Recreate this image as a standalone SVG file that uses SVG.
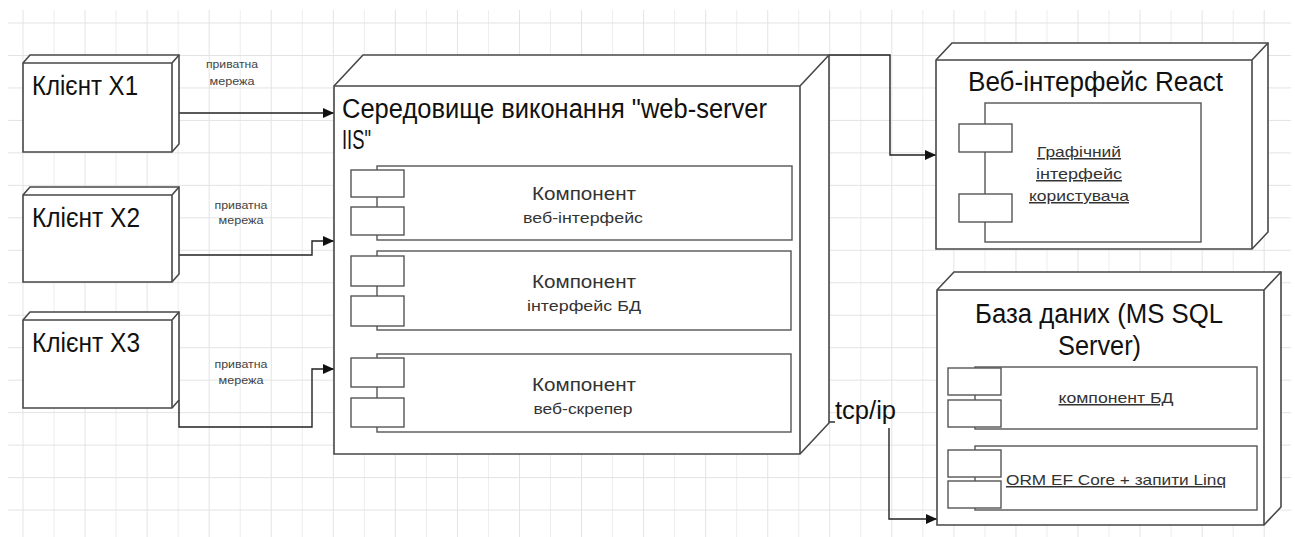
<svg xmlns="http://www.w3.org/2000/svg" width="1295" height="537" viewBox="0 0 1295 537">
<style>
.grid{stroke:#e3e3e3;stroke-width:1;fill:none}
.gridb{stroke:#ededed;stroke-width:1;fill:none}
.node{fill:#fff;stroke:#474747;stroke-width:1.6;stroke-linejoin:miter}
.ln{fill:none;stroke:#474747;stroke-width:1.6}
.comp{fill:#fff;stroke:#555;stroke-width:1.4}
.conn{fill:none;stroke:#222;stroke-width:1.4}
.title{font-family:"Liberation Sans",Arial,sans-serif;font-size:27px;fill:#111}
.cname{font-family:"Liberation Sans",Arial,sans-serif;font-size:19px;fill:#333;text-anchor:middle}
.csub{font-family:"Liberation Sans",Arial,sans-serif;font-size:15px;fill:#333;text-anchor:middle}
.ulab{font-family:"Liberation Sans",Arial,sans-serif;font-size:15px;fill:#333;text-anchor:middle;text-decoration:underline}
.small{font-family:"Liberation Sans",Arial,sans-serif;font-size:11px;fill:#444;text-anchor:middle}
</style>
<defs>
<marker id="arr" markerUnits="userSpaceOnUse" markerWidth="11" markerHeight="10" refX="11" refY="5" orient="auto">
<path d="M0,0 L11,5 L0,10 Z" fill="#111"/>
</marker>
</defs>
<rect width="1295" height="537" fill="#fff"/>
<g id="grid">
<path class="grid" d="M23,10V537 M85.06,10V537 M147.12,10V537 M209.18,10V537 M271.24,10V537 M333.3,10V537 M395.36,10V537 M457.42,10V537 M519.48,10V537 M581.54,10V537 M643.6,10V537 M705.66,10V537 M767.72,10V537 M829.78,10V537 M891.84,10V537 M953.9,10V537 M1015.96,10V537 M1078.02,10V537 M1140.08,10V537 M1202.14,10V537 M1264.2,10V537"/>
<path class="gridb" d="M54.03,10V537 M116.09,10V537 M178.15,10V537 M240.21,10V537 M302.27,10V537 M364.33,10V537 M426.39,10V537 M488.45,10V537 M550.51,10V537 M612.57,10V537 M674.63,10V537 M736.69,10V537 M798.75,10V537 M860.81,10V537 M922.87,10V537 M984.93,10V537 M1046.99,10V537 M1109.05,10V537 M1171.11,10V537 M1233.17,10V537"/>
<path class="grid" d="M8,23H1291 M8,55.47H1291 M8,87.94H1291 M8,120.41H1291 M8,152.88H1291 M8,185.35H1291 M8,217.82H1291 M8,250.29H1291 M8,282.76H1291 M8,315.23H1291 M8,347.7H1291 M8,380.17H1291 M8,412.64H1291 M8,445.11H1291 M8,477.58H1291 M8,510.05H1291"/>
</g>

<g id="connectors">
<path class="conn" d="M179,113 H334" marker-end="url(#arr)"/>
<path class="conn" d="M179,255 H312 V241 H334" marker-end="url(#arr)"/>
<path class="conn" d="M179,400 V427 H312 V369 H334" marker-end="url(#arr)"/>
<path class="conn" d="M829,55 H890 V155 H936" marker-end="url(#arr)"/>
<path class="conn" d="M829,422 H835"/>
<path class="conn" d="M889,428 V519 H937" marker-end="url(#arr)"/>
<text class="small" x="232" y="68" textLength="52" lengthAdjust="spacingAndGlyphs">приватна</text>
<text class="small" x="232" y="85" textLength="45" lengthAdjust="spacingAndGlyphs">мережа</text>
<text class="small" x="241" y="209" textLength="53" lengthAdjust="spacingAndGlyphs">приватна</text>
<text class="small" x="241" y="224" textLength="45" lengthAdjust="spacingAndGlyphs">мережа</text>
<text class="small" x="241" y="368" textLength="53" lengthAdjust="spacingAndGlyphs">приватна</text>
<text class="small" x="241" y="384" textLength="45" lengthAdjust="spacingAndGlyphs">мережа</text>
<text x="835" y="419" font-family="Liberation Sans, Arial, sans-serif" font-size="26" fill="#111" textLength="61" lengthAdjust="spacingAndGlyphs">tcp/ip</text>
</g>

<g id="client1">
<path class="node" d="M23,63 L30,55 H179 V144 L172,152 H23 Z"/>
<path class="ln" d="M23,63 H172 V152 M172,63 L179,55"/>
<text class="title" x="32" y="95" textLength="106" lengthAdjust="spacingAndGlyphs">Клієнт Х1</text>
</g>
<g id="client2">
<path class="node" d="M23,195 L30,187 H179 V274 L172,282 H23 Z"/>
<path class="ln" d="M23,195 H172 V282 M172,195 L179,187"/>
<text class="title" x="32" y="227" textLength="108" lengthAdjust="spacingAndGlyphs">Клієнт Х2</text>
</g>
<g id="client3">
<path class="node" d="M23,320 L30,312 H179 V400 L172,408 H23 Z"/>
<path class="ln" d="M23,320 H172 V408 M172,320 L179,312"/>
<text class="title" x="32" y="352" textLength="108" lengthAdjust="spacingAndGlyphs">Клієнт Х3</text>
</g>

<g id="server">
<path class="node" d="M334,86 L363,55 H829 V423 L800,454 H334 Z"/>
<path class="ln" d="M334,86 H800 V454 M800,86 L829,55"/>
<text class="title" x="342" y="118" textLength="425" lengthAdjust="spacingAndGlyphs">Середовище виконання "web-server</text>
<text class="title" x="342" y="149" textLength="29" lengthAdjust="spacingAndGlyphs">IIS"</text>
<g id="comp-web">
<rect class="comp" x="377" y="166" width="415" height="74"/>
<rect class="comp" x="351" y="170" width="53" height="27"/>
<rect class="comp" x="351" y="207" width="53" height="28"/>
<text class="cname" x="584" y="200" textLength="104" lengthAdjust="spacingAndGlyphs">Компонент</text>
<text class="csub" x="583" y="223" textLength="120" lengthAdjust="spacingAndGlyphs">веб-інтерфейс</text>
</g>
<g id="comp-db">
<rect class="comp" x="377" y="251" width="414" height="79"/>
<rect class="comp" x="351" y="256" width="53" height="30"/>
<rect class="comp" x="351" y="296" width="53" height="30"/>
<text class="cname" x="584" y="288" textLength="104" lengthAdjust="spacingAndGlyphs">Компонент</text>
<text class="csub" x="584" y="311" textLength="114" lengthAdjust="spacingAndGlyphs">інтерфейс БД</text>
</g>
<g id="comp-scraper">
<rect class="comp" x="377" y="354" width="414" height="78"/>
<rect class="comp" x="351" y="358" width="53" height="29"/>
<rect class="comp" x="351" y="398" width="53" height="29"/>
<text class="cname" x="584" y="391" textLength="104" lengthAdjust="spacingAndGlyphs">Компонент</text>
<text class="csub" x="583" y="414" textLength="99" lengthAdjust="spacingAndGlyphs">веб-скрепер</text>
</g>
</g>

<g id="react">
<path class="node" d="M936,60 L952,43 H1268 V232 L1252,249 H936 Z"/>
<path class="ln" d="M936,60 H1252 V249 M1252,60 L1268,43"/>
<text class="title" x="968" y="91" textLength="255" lengthAdjust="spacingAndGlyphs">Веб-інтерфейс React</text>
<g id="comp-gui">
<rect class="comp" x="985" y="103" width="216" height="139"/>
<rect class="comp" x="959" y="124" width="53" height="28"/>
<rect class="comp" x="959" y="194" width="53" height="28"/>
<text class="ulab" x="1079" y="157" textLength="84" lengthAdjust="spacingAndGlyphs">Графічний</text>
<text class="ulab" x="1079" y="179" textLength="86" lengthAdjust="spacingAndGlyphs">інтерфейс</text>
<text class="ulab" x="1079" y="201" textLength="100" lengthAdjust="spacingAndGlyphs">користувача</text>
</g>
</g>

<g id="database">
<path class="node" d="M937,290 L954,272 H1281 V507 L1264,525 H937 Z"/>
<path class="ln" d="M937,290 H1264 V525 M1264,290 L1281,272"/>
<text class="title" x="975" y="323" textLength="248" lengthAdjust="spacingAndGlyphs">База даних (MS SQL</text>
<text class="title" x="1058" y="355" textLength="83" lengthAdjust="spacingAndGlyphs">Server)</text>
<g id="comp-dbcore">
<rect class="comp" x="975" y="367" width="282" height="62"/>
<rect class="comp" x="948" y="368" width="53" height="27"/>
<rect class="comp" x="948" y="400" width="53" height="27"/>
<text class="ulab" x="1116" y="403" textLength="115" lengthAdjust="spacingAndGlyphs">компонент БД</text>
</g>
<g id="comp-orm">
<rect class="comp" x="975" y="446" width="282" height="64"/>
<rect class="comp" x="948" y="450" width="53" height="27"/>
<rect class="comp" x="948" y="481" width="53" height="27"/>
<text class="ulab" x="1116" y="485" textLength="220" lengthAdjust="spacingAndGlyphs">ORM EF Core + запити Linq</text>
</g>
</g>
</svg>
